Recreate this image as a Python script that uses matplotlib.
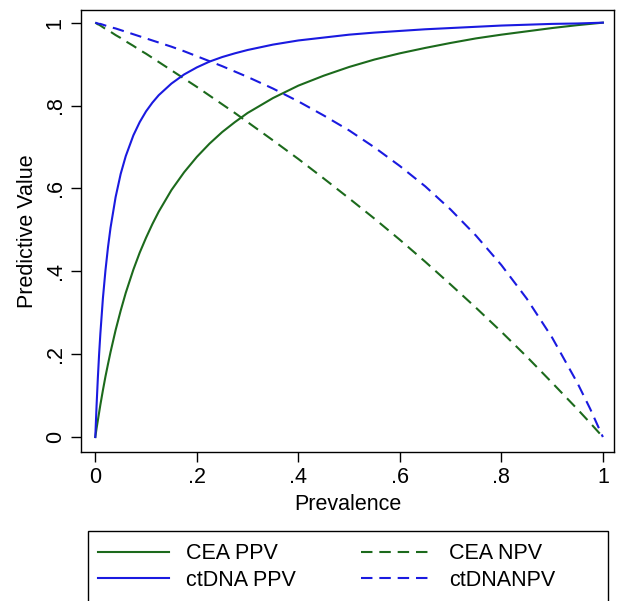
import matplotlib
matplotlib.use('Agg')
import matplotlib.pyplot as plt
from matplotlib.patches import Rectangle

# prevalence grid and predictive values
prevalence = [0, 0.0025, 0.005, 0.0075, 0.01, 0.015, 0.02, 0.025, 0.03, 0.04, 0.05,
              0.06, 0.075, 0.0875, 0.1, 0.1125, 0.125, 0.15, 0.175, 0.2, 0.225, 0.25,
              0.275, 0.3, 0.35, 0.4, 0.45, 0.5, 0.55, 0.6, 0.65, 0.7, 0.75, 0.8,
              0.85, 0.9, 0.95, 0.975, 1.0]

cea_ppv = [0, 0.021, 0.040, 0.059, 0.078, 0.113, 0.146, 0.176, 0.205, 0.258, 0.305,
           0.348, 0.404, 0.445, 0.481, 0.514, 0.544, 0.596, 0.639, 0.676, 0.708, 0.736,
           0.760, 0.782, 0.818, 0.848, 0.872, 0.893, 0.911, 0.926, 0.939, 0.951, 0.962,
           0.971, 0.979, 0.987, 0.994, 0.997, 1.0]
ctdna_ppv = [0, 0.076, 0.142, 0.200, 0.250, 0.335, 0.402, 0.458, 0.505, 0.579, 0.635,
             0.678, 0.728, 0.760, 0.786, 0.807, 0.825, 0.853, 0.875, 0.892, 0.906, 0.917,
             0.926, 0.934, 0.947, 0.957, 0.964, 0.971, 0.976, 0.980, 0.984, 0.987, 0.990,
             0.993, 0.995, 0.997, 0.998, 0.999, 1.0]
cea_npv = [1.0, 0.998, 0.996, 0.995, 0.993, 0.989, 0.985, 0.982, 0.978, 0.970, 0.963,
           0.955, 0.944, 0.934, 0.925, 0.915, 0.905, 0.885, 0.865, 0.845, 0.824, 0.803,
           0.782, 0.760, 0.716, 0.671, 0.624, 0.576, 0.527, 0.476, 0.423, 0.368, 0.312,
           0.254, 0.194, 0.131, 0.067, 0.034, 0]
ctdna_npv = [1.0, 0.999, 0.998, 0.997, 0.997, 0.995, 0.993, 0.991, 0.989, 0.986, 0.982,
             0.978, 0.972, 0.967, 0.962, 0.957, 0.952, 0.942, 0.931, 0.919, 0.907, 0.895,
             0.882, 0.869, 0.841, 0.810, 0.776, 0.740, 0.699, 0.654, 0.605, 0.549, 0.486,
             0.415, 0.334, 0.240, 0.130, 0.068, 0]

tick_vals = [0, 0.2, 0.4, 0.6, 0.8, 1.0]
tick_labels = ['0', '.2', '.4', '.6', '.8', '1']

plt.rcParams['font.family'] = ['Liberation Sans', 'DejaVu Sans']

green = '#1c6a1c'
blue = '#1a1ae0'
dash = (5.5, 3.3)
fs = 15.5

fig = plt.figure(figsize=(6.19, 6.01), dpi=100)
ax = fig.add_axes([0.131, 0.248, 0.861, 0.735])

ax.plot(prevalence, cea_ppv, color=green, lw=1.5, label='CEA PPV')
ax.plot(prevalence, cea_npv, color=green, lw=1.5, dashes=dash, label='CEA NPV')
ax.plot(prevalence, ctdna_ppv, color=blue, lw=1.5, label='ctDNA PPV')
ax.plot(prevalence, ctdna_npv, color=blue, lw=1.5, dashes=dash, label='ctDNANPV')

ax.set_xlim(-0.028, 1.022)
ax.set_ylim(-0.036, 1.03)
ax.set_xticks(tick_vals)
ax.set_xticklabels(tick_labels)
ax.set_yticks(tick_vals)
ax.set_yticklabels(tick_labels, rotation=90, va='center')
ax.tick_params(direction='out', length=7, width=1, labelsize=fs, pad=4)
ax.set_xlabel('Prevalence', fontsize=fs, labelpad=4)
ax.set_ylabel('Predictive Value', fontsize=fs, labelpad=5)
for s in ax.spines.values():
    s.set_linewidth(1.0)

# legend box runs past the bottom edge of the figure
fig.patches.append(Rectangle((88 / 619, -0.05), 520 / 619, 0.05 + 70 / 601,
                             transform=fig.transFigure, fill=False,
                             edgecolor='black', lw=1.0))
h, l = ax.get_legend_handles_labels()
order = [0, 2, 1, 3]
leg = fig.legend([h[i] for i in order], [l[i] for i in order], ncol=2,
                 loc='upper left', bbox_to_anchor=(81 / 619, 1 - 526 / 601),
                 fontsize=fs, frameon=False, handlelength=3.3, handletextpad=0.8,
                 borderpad=0.3, labelspacing=0.25, columnspacing=3.0)

fig.savefig('out.png', dpi=100)
